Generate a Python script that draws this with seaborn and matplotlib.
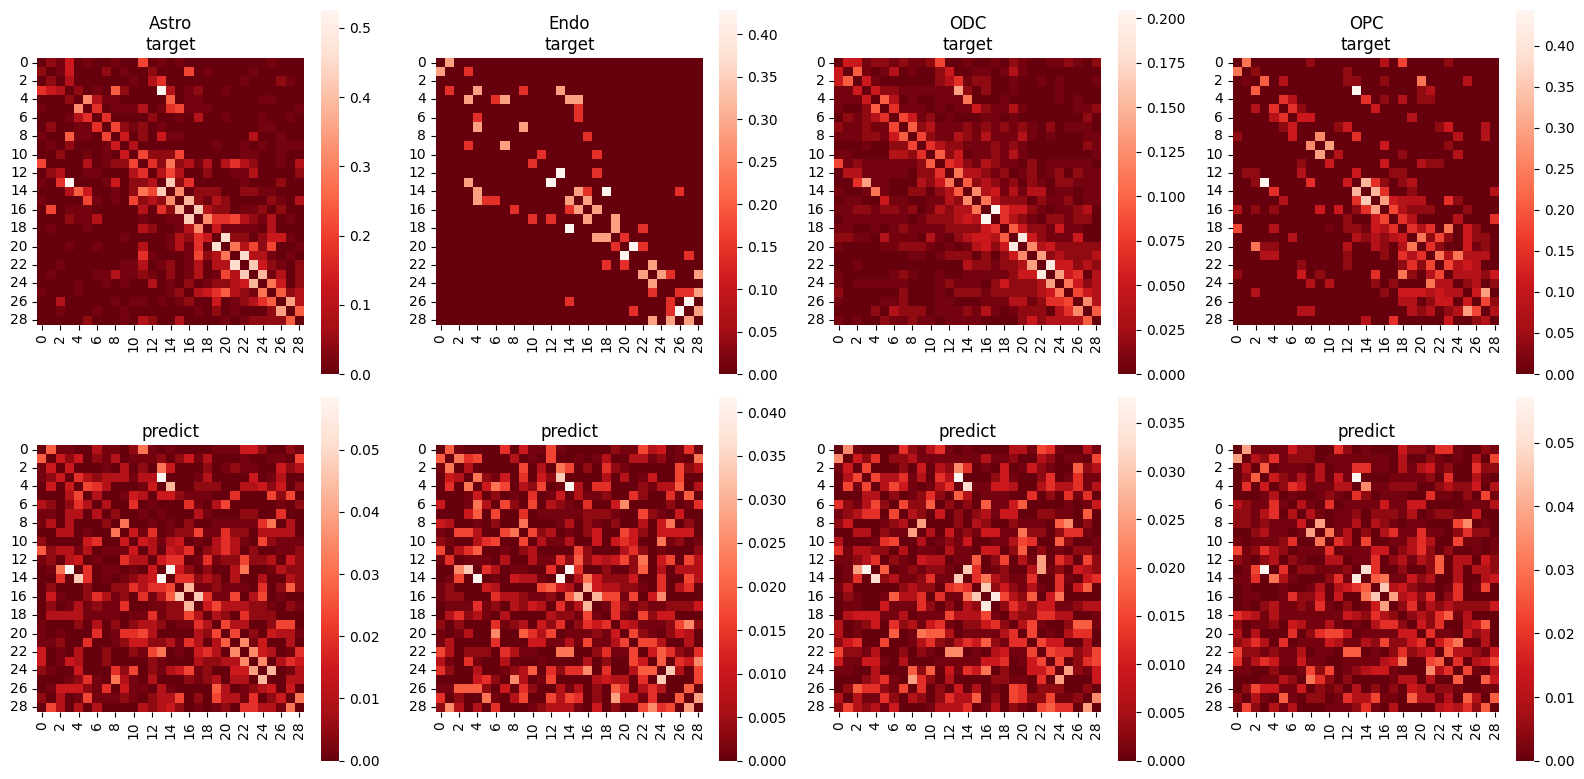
import numpy as np
import matplotlib
matplotlib.use("Agg")
import matplotlib.pyplot as plt
import seaborn as sns

W, H = 1584, 779
CELL_TYPES = ["Astro", "Endo", "ODC", "OPC"]
N = 29

# Largest value of each matrix; rows below hold sixteen-step levels of it.
TARGET_PEAK = [0.526, 3 / 7, 0.2045, 0.4435]
PREDICT_PEAK = [0.0585, 0.0418, 0.0377, 0.0572]

# Share of the peak that each level stands for; the faint levels sit closer to zero.
LEVEL_SHARE = [0.0, 0.03, 0.085, 0.17, 0.25, 0.333, 0.4, 0.467,
               0.533, 0.6, 0.667, 0.733, 0.8, 0.867, 0.933, 1.0]

ASTRO_TARGET = [
"0214010010 0601010000 000001000", "2014000201 0020006010 000100000", "0203000000 1035000000 001000210",
"5430201072 000f301200 100000000", "0002093110 0000701100 000011000", "1000905011 1301561110 000000001",
"0001350500 0020010300 100010010", "0200115062 1201000000 000011000", "1007110604 0204110000 000300100",
"0102000140 3000000001 001010111", "0020010104 0622260000 001100100", "6000030122 6052823130 353200103",
"0230011000 3503630020 011300002", "105f000140 2230c25000 001000200", "0003740010 286c090222 002211000",
"1000061010 623290b213 200002103", "0601110000 03052b0c32 201120200", "0002113000 010011c095 563213010",
"0100010000 0320013904 111103000", "0000000001 0000132540 d22024410", "0001001000 030013150d 083626001",
"0000000000 0510001623 80d331010", "0010000001 1301201303 3d0c42102", "0100001131 1210201301 63c0b1302",
"0000100101 0030102012 234b08402", "1000100000 0000120345 732180723", "0030000010 1101012004 0123570a3",
"0010001001 0000000102 010002a07", "0000020001 0320030000 101222270",
]

# The Endo target only takes three non-zero values, so its cells are listed by (row, column).
ENDO_LOW = [(1,3),(3,1),(3,9),(4,6),(5,15),(6,4),(6,15),(8,16),(9,3),(10,11),(10,17),(11,10),(12,17),
            (14,16),(14,26),(15,5),(15,6),(16,8),(16,14),(17,10),(17,12),(18,22),(19,20),(20,19),(20,22),
            (21,27),(22,18),(22,20),(23,25),(25,23),(25,26),(25,27),(26,14),(26,25),(27,21),(27,25)]
ENDO_MID = [(0,1),(1,0),(3,4),(3,13),(4,3),(4,7),(4,14),(4,15),(7,4),(7,9),(9,7),(13,3),(14,4),(14,15),
            (15,4),(15,14),(15,16),(16,15),(16,17),(17,16),(17,19),(18,19),(19,17),(19,18),(22,23),
            (23,22),(23,24),(23,28),(24,23),(25,28),(27,28),(28,23),(28,25),(28,27)]
ENDO_HIGH = [(12,13),(13,12),(14,18),(18,14),(20,21),(21,20),(26,27),(27,26)]

ODC_TARGET = [
"0441221211 2600100102 100112102", "4071013010 0240011013 100000000", "4704100000 0235122001 001010001",
"1140422111 111a202001 000010000", "1114073010 0111800010 000010100", "1002705111 0101142113 100000112",
"0212350641 2010001101 000000020", "2112116072 3111212121 210201110", "1112214706 2113213111 310100011",
"0001002260 5322111212 100000021", "1100003325 0724011213 100000001", "6121111112 7054213211 020111110",
"0331111102 2508332120 120120211", "005a110003 2480723212 021022111", "1001810022 0237093413 133011011",
"0110041100 1132908322 202112011", "1122122120 1323380f54 421011230", "0111111101 222343f053 210221220",
"1100101211 1122224507 422141100", "2211031110 3102344370 e42111400", "1000011222 101013424e 093422222",
"0000000011 0122202024 90a232223", "0010000000 0000322122 3a0e44232", "1000001210 0100111112 44e0a4503",
"1011111100 0121110242 223a08423", "2000000200 0102221222 223480643", "1000011200 0110001113 312556093",
"0000203222 0111213101 222035907", "1010021121 1011110000 242333370",
]

OPC_TARGET = [
"0800000020 0000003060 000200000", "8020000000 0020000000 000000000", "0107030000 0022002000 800003000",
"0070000000 000f000000 230000000", "0000053000 0000502030 220000000", "0030505200 0000040000 000000000",
"0000350440 0000000003 000000000", "0000024000 0240000000 002400030", "2000004009 0005000000 000030030",
"0000000090 a000004000 000200000", "000000000a 0300000020 000030000", "0000000200 4000004000 322000000",
"0220000300 0004000220 000000000", "002f000050 0040b52023 000000000", "0000500000 000b0b5002 000000003",
"0000030000 0005c0a433 300520000", "3020200004 04025a0632 220002000", "0000000000 0020046053 000030005",
"6000300000 1022143505 350804200", "0000003000 0003232340 826204220", "0082200000 0030032038 052004120",
"0003300000 0020002053 508383330", "0000000200 0020000025 260634300", "2000000402 0000050082 036033324",
"0000000030 3000020200 083302302", "0030000000 0000002044 4343304a0", "0000000000 0000000033 024404062",
"0000000330 0000000003 23023a603", "0000000000 0000300500 000400230",
]

ASTRO_PREDICT = [
"0711003110 2810100001 114420021", "7042402130 1112024130 001001106", "1404000103 0208400020 121100423",
"1240532333 133f000130 000401300", "0404065300 0140b00222 003342402", "0003603001 4304421110 050006260",
"3202530300 5010005103 600000102", "1103303020 0101000310 002200500", "1303000208 0010102001 111158030",
"0033010080 4150122611 522033330", "2000045004 0431340103 531062111", "7233130111 4030435023 530200112",
"1203401005 3304550151 226223042", "018f050110 1040f42020 038001322", "0050c50101 234f055232 030030032",
"0200020022 535560b112 111050272", "0410025312 05137c0c51 160360100", "0201312115 001122b046 333221021",
"0333311110 1151226303 205222000", "1000203020 2332011530 633002660", "1010005015 5630000326 060204331",
"1120050012 4422315303 709140030", "4010300200 2168010453 090943015", "4014300200 0021000322 339090354",
"2100400052 6021346120 044a0b013", "0001251083 1030002123 0330b0033", "0144421504 1103100007 301234040",
"2030161112 1023360206 331502408", "0630303000 0323420101 205533180",
]

ENDO_PREDICT = [
"0710000504 1161000002 116340151", "7085600030 1060010130 033120108", "1803000006 0308602052 100000623",
"0430821405 042c000030 301400600", "0508048603 2601f30550 002133703", "0001402010 5014031120 052005170",
"4001830620 6032105004 900002015", "0004706005 0111112221 006210400", "4300102008 0001302102 003048020",
"1066300680 6230102400 642044440", "2100356006 0311300404 540081201", "6035700102 3000062000 352010002",
"1501110300 3115272434 628046063", "009c053011 0050f50020 027030333", "0160f01043 310f038422 240050063",
"1200043000 067430b433 221050350", "1220005332 11207b0b66 160490000", "0111512032 430513b015 212112224",
"0352310300 0032216105 106244000", "2020005123 0425025450 431112692", "1013009007 5360111214 062102430",
"1300005000 4411316113 606630030", "6302220531 1008800251 160475215", "3105100300 0100003020 064070549",
"5200300123 7052559050 03770c306", "0000452093 0160000343 3050c0006", "1177720405 2003130207 503530070",
"5020081036 006365020a 44150070a", "2930305000 1233310402 0069560a0",
]

ODC_PREDICT = [
"0910000521 3510100003 316510031", "9042502231 1111113112 003201106", "1406000204 0329501040 142100723",
"0360633513 053f000241 002501511", "0616036410 1350d11443 003533513", "0003302012 5207301110 050205150",
"5213620622 7020207114 700001014", "1235506032 0402023144 002211070", "240001230a 0002032002 111079020",
"00330211a0 3041214411 822025510", "3000156003 0121400113 650072001", "5133220301 1031104402 702010221",
"1123502104 3301170260 31a053062", "01af070121 2210c50120 03a120432", "0150d23112 511c058321 150051045",
"1300000232 205650c242 131050470", "0210017335 05118c0e63 270480000", "0110041115 202032e025 324411233",
"0344411301 1163336103 225533001", "3012405231 4510224520 361002771", "3010007018 7730111135 060103550",
"2450060013 5213547215 506440030", "6221300202 1099010341 160655236", "4114410300 0111114450 146060256",
"1100300072 7041548020 04460a214", "00023510a5 2030000221 1050a0004", "0275521605 0204030106 502220020",
"3031152032 0253370206 522611209", "2632314000 1333501302 1067550a0",
]

OPC_PREDICT = [
"0a11114220 0520100042 215510021", "a032512220 1111111030 021010306", "0307011103 0115511031 341200522",
"0270421313 041f000111 120500310", "0504025411 1330911222 002322403", "0001301001 2105201110 051102061",
"3211510310 5011114114 400001113", "2213503031 0112022213 012211400", "221211140a 0113032101 100069010",
"00231101a0 8130203511 511025220", "1011125008 0530600113 530061101", "6125320111 5011144023 520200101",
"2102302100 3301150231 327033042", "016f050221 1120d50020 027030332", "1150831000 251e078114 230030034",
"0100010013 034570c342 110150160", "0110015224 04008c0a34 250250000", "0102311215 102014a025 132322224",
"5431311111 1143253202 325713000", "2011204311 3101035520 425003470", "3030005025 6640111144 051104230",
"2353050111 4311326224 504680030", "6221211301 1077010252 340733214", "5135411411 0011113480 067050346",
"1100200162 6012344100 093506103", "0001132085 2020000133 030070074", "0264411402 1203020204 302210011",
"2031071022 0153361107 331307307", "1620313000 1112510300 003435270",
]

TARGET_ROWS = [ASTRO_TARGET, None, ODC_TARGET, OPC_TARGET]
PREDICT_ROWS = [ASTRO_PREDICT, ENDO_PREDICT, ODC_PREDICT, OPC_PREDICT]

# Pixel layout: left edge of each heatmap and colorbar, heatmap side and colorbar size.
HEAT_LEFT = [37.3, 436.0, 834.3, 1232.7]
CBAR_LEFT = [321.0, 719.0, 1118.0, 1516.0]
HEAT_SIDE = 266.7
CBAR_W, CBAR_H = 18.0, 364.0
HEAT_TOP = [58.0, 445.0]
CBAR_TOP = [10.0, 396.7]


def decode(rows, peak):
    grid = [[LEVEL_SHARE[int(c, 16)] for c in row.replace(" ", "")] for row in rows]
    return np.array(grid, dtype=float) * peak


def endo_target(peak):
    grid = np.zeros((N, N))
    for cells, level in ((ENDO_LOW, 1), (ENDO_MID, 2), (ENDO_HIGH, 3)):
        for r, c in cells:
            grid[r, c] = level / 3.0 * peak
    return grid


def pixel_axes(fig, left, top, width, height):
    return fig.add_axes([left / W, 1 - (top + height) / H, width / W, height / H])


fig = plt.figure(figsize=(W / 100, H / 100), dpi=100)

for row in range(2):
    for col, name in enumerate(CELL_TYPES):
        if row == 0:
            peak = TARGET_PEAK[col]
            matrix = endo_target(peak) if TARGET_ROWS[col] is None else decode(TARGET_ROWS[col], peak)
            title = f"{name}\ntarget"
        else:
            matrix = decode(PREDICT_ROWS[col], PREDICT_PEAK[col])
            title = "predict"
        ax = pixel_axes(fig, HEAT_LEFT[col], HEAT_TOP[row], HEAT_SIDE, HEAT_SIDE)
        cax = pixel_axes(fig, CBAR_LEFT[col], CBAR_TOP[row], CBAR_W, CBAR_H)
        sns.heatmap(matrix, ax=ax, cbar_ax=cax, cmap="Reds_r", square=True,
                    xticklabels=2, yticklabels=2)
        ax.tick_params(axis="x", labelrotation=90)
        ax.tick_params(axis="y", labelrotation=0)
        ax.set_title(title, fontsize=12)

fig.savefig("out.png", dpi=100)
